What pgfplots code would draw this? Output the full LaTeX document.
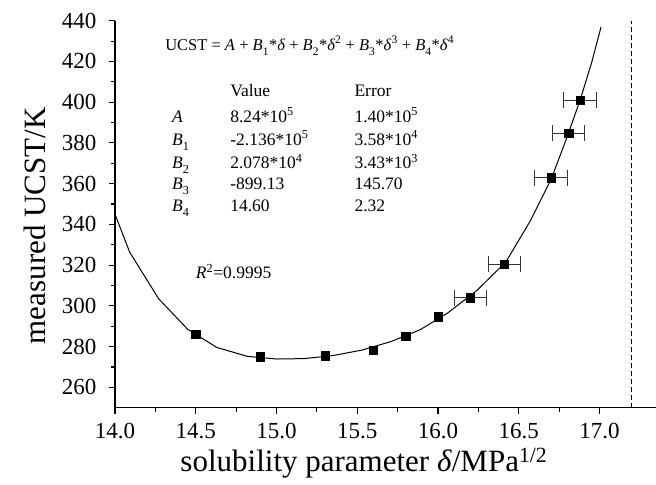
\documentclass[border=0pt]{standalone}
\usepackage{fontspec}
\setmainfont{Liberation Serif}
\usepackage{pgfplots}
\pgfplotsset{compat=1.18}
% coefficient symbol with a low-set index
\newcommand{\Bk}[1]{\textit{B}\raisebox{-0.35ex}{\textsubscript{#1}}}

% measured UCST with the horizontal uncertainty of delta
\pgfplotstableread{
x      y
14.50  286.0
14.90  275.0
15.30  275.5
15.60  278.2
15.80  285.0
16.00  294.6
}\plain
\pgfplotstableread{
x      y      ex
16.20  304.0  0.1
16.41  320.5  0.1
16.70  363.0  0.1
16.81  384.8  0.1
16.88  401.0  0.1
}\witherr
% fitted polynomial, sampled
\pgfplotstableread{
x      y
14.00  345.0
14.09  326.5
14.27  303.5
14.45  288.5
14.63  279.6
14.82  275.2
15.00  273.9
15.17  274.1
15.35  275.6
15.53  278.3
15.71  282.5
15.89  288.3
16.06  296.5
16.24  307.5
16.42  321.5
16.57  341.5
16.70  362.0
16.80  383.0
16.88  401.0
16.95  419.0
17.01  437.0
}\fit

\begin{document}
\begin{tikzpicture}
\begin{axis}[
  scale only axis, width=541pt, height=387pt,
  xmin=14, xmax=17.35, ymin=250, ymax=440,
  axis x line*=bottom, axis y line*=left,
  axis line style={line width=1.3pt},
  xtick={14,14.5,...,17}, ytick={260,280,...,440},
  minor x tick num=1, minor y tick num=1,
  tick align=outside, major tick length=6pt, minor tick length=4pt,
  every tick/.style={line width=1.1pt, black},
  tick label style={font=\fontsize{23}{23}\selectfont},
  /pgf/number format/assume math mode=true,
  xticklabel style={yshift=-6pt, /pgf/number format/.cd, fixed, fixed zerofill, precision=1},
  yticklabel style={xshift=-9pt, /pgf/number format/.cd, fixed, precision=0},
  xlabel={solubility parameter \textit{δ}/MPa\textsuperscript{1/2}},
  ylabel={measured UCST/K},
  every axis x label/.style={at={(rel axis cs:0.46,0)}, anchor=center, yshift=-55pt},
  every axis y label/.style={at={(rel axis cs:0,0.47)}, anchor=center, rotate=90, yshift=80pt},
  label style={font=\fontsize{31}{31}\selectfont},
  clip=false,
]
\addplot[black, line width=1pt] table[x=x, y=y] {\fit};
\addplot[only marks, mark=square*, mark size=4.2pt, black] table[x=x, y=y] {\plain};
\addplot[only marks, mark=square*, mark size=4.2pt, black,
  error bars/.cd, x dir=both, x explicit,
  error bar style={line width=1pt, black!80},
  error mark options={rotate=90, mark size=8pt, line width=1pt, black!80}]
  table[x=x, y=y, x error=ex] {\witherr};
\addplot[black, line width=1pt, dash pattern=on 5pt off 3pt] coordinates {(17.2,250) (17.2,440)};

\begin{scope}[every node/.style={anchor=base west, inner sep=0pt, font=\fontsize{17.5}{17.5}\selectfont}]
\node[font=\fontsize{16.5}{16.5}\selectfont] at (axis cs:14.31,425.6) {UCST = \textit{A} + \Bk{1}*\textit{δ} + \Bk{2}*\textit{δ}\textsuperscript{2} + \Bk{3}*\textit{δ}\textsuperscript{3} + \Bk{4}*\textit{δ}\textsuperscript{4}};
\node at (axis cs:14.713,403) {Value};
\node at (axis cs:15.482,403) {Error};
\node at (axis cs:14.353,390.2) {\textit{A}};
\node at (axis cs:14.713,390.2) {8.24*10\textsuperscript{5}};
\node at (axis cs:15.482,390.2) {1.40*10\textsuperscript{5}};
\node at (axis cs:14.353,378.9) {\Bk{1}};
\node at (axis cs:14.713,378.9) {-2.136*10\textsuperscript{5}};
\node at (axis cs:15.482,378.9) {3.58*10\textsuperscript{4}};
\node at (axis cs:14.353,367.5) {\Bk{2}};
\node at (axis cs:14.713,367.5) {2.078*10\textsuperscript{4}};
\node at (axis cs:15.482,367.5) {3.43*10\textsuperscript{3}};
\node at (axis cs:14.353,357.2) {\Bk{3}};
\node at (axis cs:14.713,357.2) {-899.13};
\node at (axis cs:15.482,357.2) {145.70};
\node at (axis cs:14.353,346.4) {\Bk{4}};
\node at (axis cs:14.713,346.4) {14.60};
\node at (axis cs:15.482,346.4) {2.32};
\node at (axis cs:14.50,313.4) {\textit{R}\textsuperscript{2}=0.9995};
\end{scope}
\coordinate (ll) at (rel axis cs:0,0);
\coordinate (ur) at (rel axis cs:1,1);
\end{axis}
\pgfresetboundingbox
\path ([shift={(-115pt,-77pt)}]ll) rectangle ([shift={(0pt,20.7pt)}]ur);
\end{tikzpicture}
\end{document}
